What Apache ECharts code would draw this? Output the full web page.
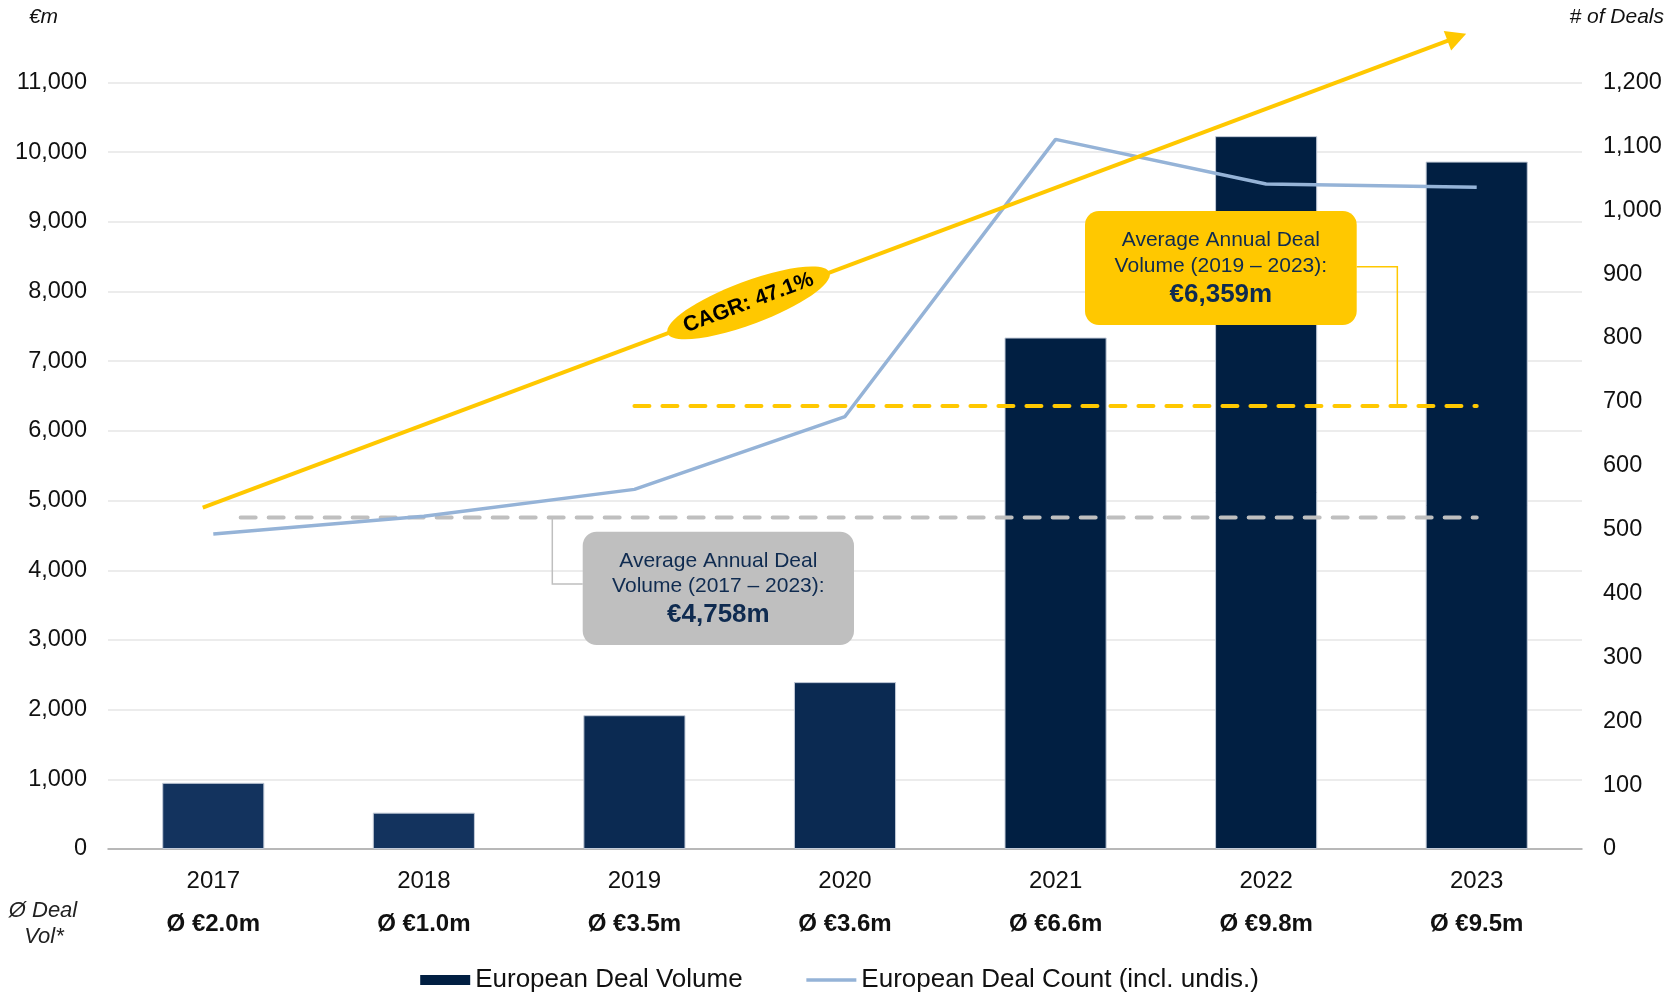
<!DOCTYPE html>
<html>
<head>
<meta charset="utf-8">
<script src="https://cdn.jsdelivr.net/npm/echarts@6/dist/echarts.min.js"></script>
<style>
  html, body { margin: 0; padding: 0; background: #ffffff; }
  #chart { width: 1679px; height: 992px; }
</style>
</head>
<body>
<div id="chart"></div>
<script>
// ---- data ----
const years = ['2017', '2018', '2019', '2020', '2021', '2022', '2023'];
const dealVolume = [950, 522, 1920, 2395, 7340, 10230, 9865];          // €m
const dealCount = [493, 521, 563, 677, 1111, 1041, 1036];              // # of deals
const avgDealSize = ['Ø €2.0m', 'Ø €1.0m', 'Ø €3.5m', 'Ø €3.6m', 'Ø €6.6m', 'Ø €9.8m', 'Ø €9.5m'];
const leftTicks = { min: 0, max: 11000, interval: 1000 };
const rightTicks = { min: 0, max: 1200, interval: 100 };
const avgAll = 4758;      // average annual deal volume 2017–2023
const avgRecent = 6359;   // average annual deal volume 2019–2023
const cagrLabel = 'CAGR: 47.1%';
// trend arrow ends: [category position, €m]
const cagrFrom = [-0.05, 4900];
const cagrTo = [5.95, 11700];

// ---- styles ----
const FONT = '"Liberation Sans", Arial, Helvetica, sans-serif';
const barPalette = ['#13335E', '#13335E', '#0B2A52', '#0B2A52', '#011F42', '#011F42', '#011F42'];
const YELLOW = '#FFC800';
const GREY = '#BFBFBF';
const NAVY_TEXT = '#0F2B50';
const COUNT_BLUE = '#95B3D7';

const fmt = v => Number(v).toLocaleString('en-US');

const chart = echarts.init(document.getElementById('chart'), null, { renderer: 'canvas' });

const option = {
  backgroundColor: '#ffffff',
  animation: false,
  textStyle: { fontFamily: FONT },
  grid: { left: 108, right: 97, top: 82.5, bottom: 143, containLabel: false },
  legend: {
    left: 'center',
    top: 962,
    itemWidth: 50,
    itemHeight: 10,
    itemGap: 62,
    textStyle: { fontSize: 26, color: '#111111', fontFamily: FONT },
    data: [
      { name: 'European Deal Volume', icon: 'rect', itemStyle: { color: '#011F42', borderWidth: 0 } },
      { name: 'European Deal Count (incl. undis.)', itemStyle: { opacity: 0 },
        lineStyle: { color: COUNT_BLUE, width: 3.5 } }
    ]
  },
  xAxis: [
    {
      type: 'category',
      data: years,
      axisLine: { show: true, lineStyle: { color: '#A6A6A6', width: 1.5 } },
      axisTick: { show: false },
      axisLabel: {
        margin: 11,
        formatter: (v, i) => `{y|${v}}\n{d|${avgDealSize[i]}}`,
        rich: {
          y: { fontSize: 24, lineHeight: 43, color: '#111111', fontFamily: FONT },
          d: { fontSize: 24, lineHeight: 43, fontWeight: 'bold', color: '#111111', fontFamily: FONT }
        }
      }
    },
    {
      // continuous position axis spanning the same bands, used by the reference lines
      type: 'value',
      min: -0.5,
      max: 6.5,
      show: false
    }
  ],
  yAxis: [
    {
      type: 'value',
      min: leftTicks.min,
      max: leftTicks.max,
      interval: leftTicks.interval,
      axisLine: { show: false },
      axisTick: { show: false },
      axisLabel: { margin: 21, fontSize: 23.5, color: '#111111', formatter: fmt, fontFamily: FONT },
      splitLine: { lineStyle: { color: '#E6E6E6', width: 1.5 } }
    },
    {
      type: 'value',
      min: rightTicks.min,
      max: rightTicks.max,
      interval: rightTicks.interval,
      position: 'right',
      axisLine: { show: false },
      axisTick: { show: false },
      axisLabel: { margin: 21, fontSize: 23.5, color: '#111111', formatter: fmt, fontFamily: FONT },
      splitLine: { show: false }
    }
  ],
  series: [
    {
      name: 'European Deal Volume',
      type: 'bar',
      xAxisIndex: 0,
      yAxisIndex: 0,
      barWidth: '48.5%',
      z: 2,
      data: dealVolume.map((v, i) => ({
        value: v,
        itemStyle: { color: barPalette[i] }
      })),
      itemStyle: { color: '#011F42', borderColor: '#C3CBD8', borderWidth: 1 }
    },
    {
      name: 'avg-all',
      type: 'line',
      xAxisIndex: 1,
      yAxisIndex: 0,
      symbol: 'none',
      z: 3,
      silent: true,
      lineStyle: { color: GREY, width: 4, type: [15, 13], cap: 'round' },
      data: [[0.13, avgAll], [6, avgAll]]
    },
    {
      name: 'avg-recent',
      type: 'line',
      xAxisIndex: 1,
      yAxisIndex: 0,
      symbol: 'none',
      z: 3,
      silent: true,
      lineStyle: { color: YELLOW, width: 4, type: [15, 13], cap: 'round' },
      data: [[2, avgRecent], [6, avgRecent]]
    },
    {
      name: 'European Deal Count (incl. undis.)',
      type: 'line',
      xAxisIndex: 0,
      yAxisIndex: 1,
      symbol: 'none',
      z: 4,
      itemStyle: { color: COUNT_BLUE },
      lineStyle: { color: COUNT_BLUE, width: 3.5 },
      data: dealCount
    }
  ]
};

chart.setOption(option);

// ---- annotations placed through the chart's own scales ----
const toPx = (pos, val) => chart.convertToPixel({ xAxisIndex: 1, yAxisIndex: 0 }, [pos, val]);

const p0 = toPx(cagrFrom[0], cagrFrom[1]);
const p1 = toPx(cagrTo[0], cagrTo[1]);
const dx = p1[0] - p0[0], dy = p1[1] - p0[1];
const len = Math.hypot(dx, dy);
const ux = dx / len, uy = dy / len;
const nx = -uy, ny = ux;
const headLen = 20, headHalf = 10.5;
const base = [p1[0] - ux * headLen, p1[1] - uy * headLen];
const tag = [p0[0] + dx * 0.432, p0[1] + dy * 0.432];
const tilt = -Math.atan2(dy, dx);

const yAll = toPx(0, avgAll)[1];
const yRecent = toPx(0, avgRecent)[1];
const greyLeadX = toPx(1.61, 0)[0];
const yellowLeadX = toPx(5.623, 0)[0];

const greyBox = { x: 582.7, y: 531.7, w: 271.3, h: 113.3 };
const yellowBox = { x: 1085, y: 211, w: 271.7, h: 114 };

function boxTexts(box, l1, l2, l3, off) {
  const cx = box.x + box.w / 2;
  return [
    { type: 'text', z: 102, x: cx, y: box.y + off[0],
      style: { text: l1, fill: NAVY_TEXT, font: `21px ${FONT}`, align: 'center', verticalAlign: 'middle' } },
    { type: 'text', z: 102, x: cx, y: box.y + off[1],
      style: { text: l2, fill: NAVY_TEXT, font: `21px ${FONT}`, align: 'center', verticalAlign: 'middle' } },
    { type: 'text', z: 102, x: cx, y: box.y + off[2],
      style: { text: l3, fill: NAVY_TEXT, font: `bold 26px ${FONT}`, align: 'center', verticalAlign: 'middle' } }
  ];
}

const graphics = [
  // axis captions
  { type: 'text', z: 100, x: 43.5, y: 17,
    style: { text: '€m', fill: '#111111', font: `italic 21px ${FONT}`, align: 'center', verticalAlign: 'middle' } },
  { type: 'text', z: 100, x: 1664, y: 17,
    style: { text: '# of Deals', fill: '#111111', font: `italic 21px ${FONT}`, align: 'right', verticalAlign: 'middle' } },
  { type: 'text', z: 100, x: 43, y: 911,
    style: { text: 'Ø Deal', fill: '#222222', font: `italic 22px ${FONT}`, align: 'center', verticalAlign: 'middle' } },
  { type: 'text', z: 100, x: 44, y: 937,
    style: { text: 'Vol*', fill: '#222222', font: `italic 22px ${FONT}`, align: 'center', verticalAlign: 'middle' } },

  // CAGR trend arrow
  { type: 'line', z: 90, silent: true,
    shape: { x1: p0[0], y1: p0[1], x2: base[0] + ux * 2, y2: base[1] + uy * 2 },
    style: { stroke: YELLOW, lineWidth: 4 } },
  { type: 'polygon', z: 90, silent: true,
    shape: { points: [p1, [base[0] + nx * headHalf, base[1] + ny * headHalf], [base[0] - nx * headHalf, base[1] - ny * headHalf]] },
    style: { fill: YELLOW } },
  { type: 'group', z: 91, x: tag[0], y: tag[1], rotation: tilt,
    children: [
      { type: 'ellipse', z: 91, shape: { cx: 0, cy: 0, rx: 86.5, ry: 21.5 }, style: { fill: YELLOW } },
      { type: 'text', z: 92, x: 0, y: 0,
        style: { text: cagrLabel, fill: '#000000', font: `bold 21.5px ${FONT}`, align: 'center', verticalAlign: 'middle' } }
    ] },

  // grey callout (2017–2023)
  { type: 'polyline', z: 95, silent: true,
    shape: { points: [[greyLeadX, yAll], [greyLeadX, 584], [greyBox.x, 584]] },
    style: { stroke: GREY, lineWidth: 1.5, fill: null } },
  { type: 'rect', z: 101, shape: { x: greyBox.x, y: greyBox.y, width: greyBox.w, height: greyBox.h, r: 14 },
    style: { fill: GREY } },
  ...boxTexts(greyBox, 'Average Annual Deal', 'Volume (2017 – 2023):', '€' + fmt(avgAll) + 'm', [29.5, 54.5, 83.5]),

  // yellow callout (2019–2023)
  { type: 'polyline', z: 95, silent: true,
    shape: { points: [[yellowBox.x + yellowBox.w, 266.7], [yellowLeadX, 266.7], [yellowLeadX, yRecent]] },
    style: { stroke: YELLOW, lineWidth: 1.5, fill: null } },
  { type: 'rect', z: 101, shape: { x: yellowBox.x, y: yellowBox.y, width: yellowBox.w, height: yellowBox.h, r: 14 },
    style: { fill: YELLOW } },
  ...boxTexts(yellowBox, 'Average Annual Deal', 'Volume (2019 – 2023):', '€' + fmt(avgRecent) + 'm', [29, 55.7, 84])
];

chart.setOption({ graphic: graphics });
</script>
</body>
</html>
